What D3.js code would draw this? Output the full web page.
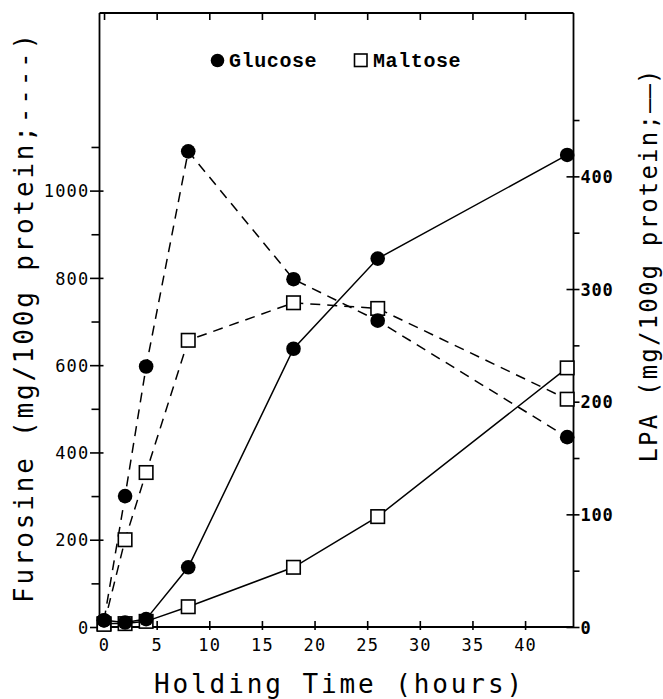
<!DOCTYPE html>
<html>
<head>
<meta charset="utf-8">
<script src="https://cdn.jsdelivr.net/npm/d3@7"></script>
<style>
  body { margin: 0; background: #fff; }
  svg text { fill: #000; }
</style>
</head>
<body>
<svg id="chart" width="663" height="699"></svg>
<script>
// Sampling times (hours)
const hours = [0, 2, 4, 8, 18, 26, 44];

// Furosine, mg/100 g protein (left axis, dashed lines)
const furosineGlucose = [15, 300, 597, 1090, 797, 702, 435];
const furosineMaltose = [6, 200, 354, 657, 743, 730, 522];

// LPA, mg/100 g protein (right axis, solid lines)
const lpaGlucose = [6, 4, 7, 53, 247, 327, 419];
const lpaMaltose = [3, 3, 5, 18, 53, 98, 230];

// Tick values and labels
const xTicks = [0, 5, 10, 15, 20, 25, 30, 35, 40];
const furosineTicks = [0, 100, 200, 300, 400, 500, 600, 700, 800, 900, 1000, 1100];
const furosineLabels = [0, 200, 400, 600, 800, 1000];
const lpaTicks = [0, 50, 100, 150, 200, 250, 300, 350, 400, 450];
const lpaLabels = [0, 100, 200, 300, 400];

const seriesNames = ["Glucose", "Maltose"];

const frame = { left: 99.5, right: 573.5, top: 13, bottom: 627 };
const mono = "'DejaVu Sans Mono', 'Liberation Mono', monospace";

const svg = d3.select("#chart");

const x = d3.scaleLinear().domain([-0.43, 44.6]).range([frame.left, frame.right]);
const yF = d3.scaleLinear().domain([0, 1407]).range([frame.bottom, frame.top]);
const yL = d3.scaleLinear().domain([0, 545]).range([frame.bottom, frame.top]);

// ---- axes ----
const axisStroke = 1.8;

function styleAxis(g) {
  g.select(".domain").remove();
  g.selectAll(".tick line").attr("stroke", "#000").attr("stroke-width", 1.6);
  g.selectAll(".tick text").attr("fill", "#000");
}

// frame lines
svg.append("line").attr("x1", frame.left).attr("x2", frame.left)
  .attr("y1", frame.top).attr("y2", frame.bottom + 1)
  .attr("stroke", "#000").attr("stroke-width", axisStroke);
svg.append("line").attr("x1", frame.right).attr("x2", frame.right)
  .attr("y1", frame.top).attr("y2", frame.bottom + 1)
  .attr("stroke", "#000").attr("stroke-width", axisStroke);
svg.append("line").attr("x1", frame.left).attr("x2", frame.right)
  .attr("y1", frame.top).attr("y2", frame.top)
  .attr("stroke", "#000").attr("stroke-width", axisStroke);
svg.append("line").attr("x1", frame.left).attr("x2", frame.right)
  .attr("y1", frame.bottom).attr("y2", frame.bottom)
  .attr("stroke", "#000").attr("stroke-width", axisStroke);

// bottom axis: ticks crossing the line
const gx = svg.append("g").attr("transform", `translate(0,${frame.bottom})`)
  .call(d3.axisBottom(x).tickValues(xTicks).tickSize(0).tickPadding(0).tickFormat(d3.format("d")));
styleAxis(gx);
gx.selectAll(".tick line").attr("y1", -6).attr("y2", 3);
gx.selectAll(".tick text")
  .attr("y", 24).attr("dy", null)
  .attr("font-family", mono).attr("font-size", 17).attr("letter-spacing", 1.2);

// top axis: inward ticks only
const gxTop = svg.append("g").attr("transform", `translate(0,${frame.top})`)
  .call(d3.axisTop(x).tickValues(xTicks).tickSize(-7).tickFormat(""));
styleAxis(gxTop);

// left axis (furosine)
const gyF = svg.append("g").attr("transform", `translate(${frame.left},0)`)
  .call(d3.axisLeft(yF).tickValues(furosineTicks).tickSize(0).tickPadding(0)
    .tickFormat(d => furosineLabels.includes(d) ? d : ""));
styleAxis(gyF);
gyF.selectAll(".tick line")
  .attr("x1", d => furosineLabels.includes(d) ? -9.5 : -8)
  .attr("x2", d => furosineLabels.includes(d) ? 4 : 0);
gyF.selectAll(".tick text")
  .attr("x", -10).attr("dy", "0.36em")
  .attr("font-family", mono).attr("font-size", 17).attr("letter-spacing", 1.2);

// right axis (LPA)
const gyL = svg.append("g").attr("transform", `translate(${frame.right},0)`)
  .call(d3.axisRight(yL).tickValues(lpaTicks).tickSize(0).tickPadding(0)
    .tickFormat(d => lpaLabels.includes(d) ? d : ""));
styleAxis(gyL);
gyL.selectAll(".tick line")
  .attr("x1", d => lpaLabels.includes(d) ? -7 : 0)
  .attr("x2", 6);
gyL.selectAll(".tick text")
  .attr("x", 7).attr("dy", "0.36em")
  .attr("font-family", mono).attr("font-weight", "bold")
  .attr("font-size", 17).attr("letter-spacing", 0.8);

// ---- axis titles ----
svg.append("text")
  .attr("x", (frame.left + frame.right) / 2 + 3).attr("y", 693)
  .attr("text-anchor", "middle")
  .attr("font-family", mono).attr("font-size", 26).attr("letter-spacing", 2.9)
  .text("Holding Time (hours)");

svg.append("text")
  .attr("transform", "translate(33,317) rotate(-90)")
  .attr("text-anchor", "middle")
  .attr("font-family", mono).attr("font-size", 26).attr("letter-spacing", 2.8)
  .text("Furosine (mg/100g protein;----)");

const rightTitle = svg.append("text")
  .attr("transform", "translate(657,265) rotate(-90)")
  .attr("text-anchor", "middle")
  .attr("font-family", mono).attr("font-size", 24).attr("letter-spacing", 2.2);
rightTitle.append("tspan").text("LPA (mg/100g protein;");
rightTitle.append("tspan").attr("letter-spacing", 0).text("——");
rightTitle.append("tspan").text(")");

// ---- data lines ----
const rows = hours.map((h, i) => ({
  h, fg: furosineGlucose[i], fm: furosineMaltose[i], lg: lpaGlucose[i], lm: lpaMaltose[i]
}));

const lineSpec = [
  { key: "fg", y: yF, dash: "10,7" },
  { key: "fm", y: yF, dash: "10,7" },
  { key: "lg", y: yL, dash: null },
  { key: "lm", y: yL, dash: null }
];

lineSpec.forEach(s => {
  const gen = d3.line().x(d => x(d.h)).y(d => s.y(d[s.key]));
  svg.append("path").datum(rows)
    .attr("d", gen)
    .attr("fill", "none").attr("stroke", "#000").attr("stroke-width", 1.5)
    .attr("stroke-dasharray", s.dash);
});

// ---- markers ----
const circleR = 7.3;
const sq = 13.5;

function circles(key, scale) {
  svg.append("g").selectAll("circle").data(rows).join("circle")
    .attr("cx", d => x(d.h)).attr("cy", d => scale(d[key])).attr("r", circleR)
    .attr("fill", "#000");
}
function squares(key, scale) {
  svg.append("g").selectAll("rect").data(rows).join("rect")
    .attr("x", d => x(d.h) - sq / 2).attr("y", d => scale(d[key]) - sq / 2)
    .attr("width", sq).attr("height", sq)
    .attr("fill", "#fff").attr("stroke", "#000").attr("stroke-width", 1.6);
}
squares("lm", yL);
squares("fm", yF);
circles("lg", yL);
circles("fg", yF);

// ---- legend ----
const legend = svg.append("g").attr("font-family", "'Liberation Mono', 'Courier New', monospace")
  .attr("font-weight", "bold").attr("font-size", 20);
legend.append("circle").attr("cx", 217.5).attr("cy", 60.5).attr("r", 6.8).attr("fill", "#000");
legend.append("text").attr("x", 229).attr("y", 66.5).attr("letter-spacing", 0.6).text(seriesNames[0]);
legend.append("rect").attr("x", 354.5).attr("y", 54).attr("width", 12.5).attr("height", 12.5)
  .attr("fill", "#fff").attr("stroke", "#000").attr("stroke-width", 1.6);
legend.append("text").attr("x", 373).attr("y", 66.5).attr("letter-spacing", 0.6).text(seriesNames[1]);
</script>
</body>
</html>
